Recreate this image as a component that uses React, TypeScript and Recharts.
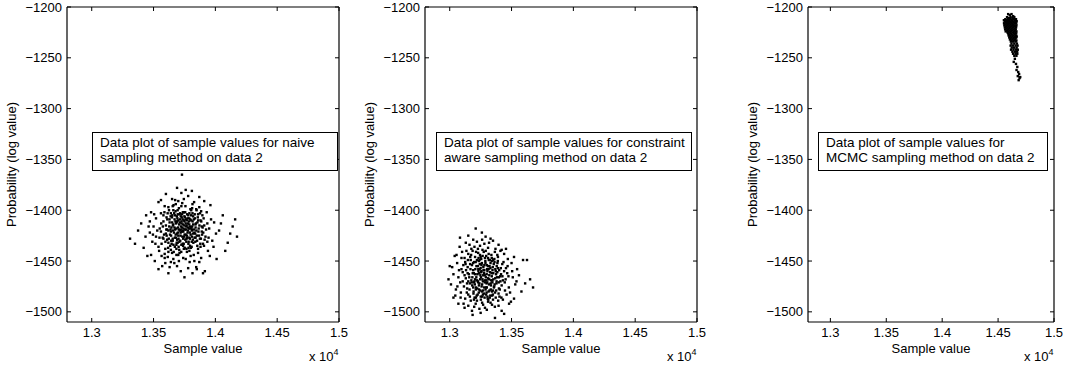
import { ScatterChart, Scatter, XAxis, YAxis, Label } from 'recharts';

// axis setup shared by the three panels
const xTicks = [13000, 13500, 14000, 14500, 15000];
const yTicks = [-1500, -1450, -1400, -1350, -1300, -1250, -1200];
const xDomain = [12800, 15000];
const yDomain = [-1510, -1200];

// naive sampling, data 2
const naivePoints = [
  [13730, -1365], [13690, -1378], [13760, -1380],
  [13600, -1384], [13810, -1381], [13870, -1387], [13650, -1389], [13725, -1383], [13780, -1386], [13560, -1390],
  [13540, -1392], [13620, -1397], [13662, -1395], [13700, -1391], [13732, -1393], [13758, -1396], [13798, -1399], [13828, -1392],
  [13870, -1397], [13960, -1395], [13590, -1396], [13705, -1398], [13680, -1394], [13845, -1399], [13910, -1391],
  [13440, -1405], [13480, -1402], [13520, -1408], [13560, -1403], [13605, -1407], [13625, -1400], [13652, -1405], [13670, -1409],
  [13678, -1401], [13688, -1406], [13715, -1403], [13728, -1407], [13745, -1402], [13762, -1409], [13772, -1404], [13788, -1408],
  [13805, -1400], [13815, -1403], [13835, -1408], [13848, -1400], [13895, -1405], [13930, -1402], [14060, -1405], [13640, -1403],
  [13695, -1400], [13750, -1406], [13820, -1406], [13580, -1405], [13735, -1409], [13860, -1404],
  [13400, -1413], [13500, -1416], [13550, -1418], [13580, -1411], [13600, -1415], [13630, -1412], [13645, -1417], [13660, -1414],
  [13675, -1419], [13682, -1413], [13698, -1417], [13700, -1410], [13712, -1412], [13722, -1416], [13738, -1414], [13742, -1418],
  [13750, -1411], [13755, -1419], [13768, -1415], [13778, -1413], [13785, -1418], [13795, -1416], [13805, -1410], [13820, -1414],
  [13840, -1417], [13855, -1412], [13865, -1418], [13880, -1410], [13910, -1415], [13950, -1418], [13990, -1412], [14140, -1416],
  [13610, -1419], [13690, -1411], [13730, -1417], [13760, -1413], [13810, -1419], [13890, -1416], [13470, -1411], [13935, -1413],
  [13310, -1428], [13470, -1422], [13520, -1426], [13585, -1424], [13610, -1429], [13620, -1420], [13642, -1425], [13665, -1422],
  [13680, -1427], [13690, -1423], [13702, -1428], [13718, -1425], [13730, -1421], [13748, -1426], [13760, -1424], [13775, -1422],
  [13790, -1427], [13800, -1424], [13818, -1429], [13830, -1422], [13850, -1425], [13875, -1428], [13890, -1421], [13920, -1426],
  [14030, -1420], [14175, -1426], [13560, -1421], [13655, -1428], [13712, -1420], [13740, -1428], [13810, -1420], [13840, -1427],
  [13700, -1425], [13600, -1423],
  [13420, -1437], [13490, -1431], [13565, -1433], [13595, -1438], [13635, -1435], [13655, -1430], [13672, -1436], [13695, -1432],
  [13708, -1439], [13725, -1434], [13735, -1433], [13752, -1437], [13765, -1431], [13782, -1433], [13808, -1436], [13838, -1431],
  [13860, -1438], [13900, -1433], [13975, -1430], [14100, -1432], [13640, -1439], [13685, -1434], [13745, -1438], [13795, -1435],
  [13540, -1436], [13620, -1432], [13880, -1436],
  [13450, -1445], [13480, -1444], [13545, -1440], [13615, -1446], [13650, -1442], [13685, -1444], [13740, -1447], [13770, -1441],
  [13825, -1444], [13885, -1447], [13940, -1440], [14010, -1448], [13590, -1443], [13710, -1442], [13800, -1445], [13860, -1442],
  [13660, -1448],
  [13510, -1450], [13570, -1455], [13668, -1452], [13720, -1460], [13792, -1451], [13845, -1456], [13915, -1460], [13540, -1458],
  [13620, -1462], [13750, -1466], [13850, -1458], [13900, -1462], [13690, -1455], [13780, -1457], [13640, -1451],
  [13562, -1413], [13574, -1427], [13588, -1402], [13596, -1431], [13603, -1419], [13611, -1409], [13618, -1437], [13627, -1416],
  [13633, -1424], [13638, -1406], [13646, -1433], [13651, -1412], [13657, -1420], [13663, -1441], [13667, -1403], [13673, -1427],
  [13677, -1411], [13684, -1418], [13687, -1432], [13693, -1408], [13697, -1422], [13703, -1436], [13707, -1414], [13711, -1404],
  [13716, -1430], [13720, -1419], [13724, -1441], [13727, -1411], [13733, -1426], [13737, -1402], [13741, -1421], [13744, -1433],
  [13749, -1415], [13753, -1407], [13757, -1429], [13761, -1419], [13766, -1438], [13769, -1410], [13773, -1427], [13777, -1417],
  [13781, -1405], [13784, -1431], [13789, -1414], [13793, -1422], [13797, -1409], [13802, -1437], [13806, -1417], [13811, -1426],
  [13816, -1411], [13822, -1432], [13827, -1419], [13833, -1404], [13837, -1423], [13843, -1413], [13852, -1430], [13858, -1407],
  [13863, -1421], [13871, -1415], [13878, -1433], [13886, -1411], [13893, -1424], [13905, -1408], [13913, -1429], [13925, -1419],
  [13945, -1427], [13965, -1409], [13985, -1436], [14005, -1423], [14045, -1413], [14080, -1440], [13530, -1420], [13515, -1433],
  [13505, -1404], [13495, -1424], [13460, -1416], [13435, -1426], [13375, -1420], [13350, -1433], [14120, -1423], [14160, -1409],
  [13655, -1396], [13675, -1390], [13745, -1389], [13815, -1394], [13885, -1401], [13590, -1447], [13705, -1450], [13760, -1448],
  [13830, -1450], [13955, -1445], [13630, -1456], [13815, -1462], [13595, -1452], [13870, -1451], [13565, -1445], [13685, -1438],
  [13720, -1406], [13770, -1425], [13640, -1421], [13790, -1403],
  [13606, -1425], [13614, -1403], [13623, -1428], [13629, -1409], [13637, -1419], [13643, -1430], [13649, -1407], [13656, -1415],
  [13661, -1434], [13669, -1417], [13674, -1405], [13679, -1424], [13686, -1412], [13691, -1429], [13696, -1404], [13704, -1419],
  [13709, -1431], [13714, -1409], [13719, -1422], [13726, -1413], [13731, -1404], [13736, -1420], [13739, -1435], [13746, -1410],
  [13751, -1424], [13756, -1402], [13763, -1416], [13767, -1428], [13774, -1408], [13779, -1420], [13783, -1437], [13787, -1411],
  [13794, -1428], [13799, -1418], [13804, -1405], [13809, -1431], [13813, -1416], [13819, -1423], [13826, -1409], [13832, -1427],
  [13839, -1414], [13846, -1420], [13854, -1435], [13861, -1410], [13868, -1425], [13876, -1403], [13883, -1428], [13897, -1417],
  [13620, -1441], [13700, -1444], [13790, -1440], [13725, -1396], [13660, -1400], [13812, -1398], [13580, -1428], [13575, -1416],
  [13908, -1435], [13902, -1422], [13935, -1431], [13548, -1427],
];

// constraint aware sampling, data 2
const constraintPoints = [
  [13210, -1418], [13083, -1427], [13150, -1425], [13260, -1422], [13330, -1428], [13190, -1429], [13290, -1426],
  [13080, -1436], [13130, -1432], [13175, -1438], [13220, -1431], [13245, -1435], [13280, -1433], [13310, -1437], [13350, -1430],
  [13395, -1434], [13420, -1439], [13160, -1434], [13265, -1439], [13200, -1436], [13370, -1438],
  [13040, -1445], [13100, -1441], [13120, -1447], [13150, -1443], [13185, -1440], [13205, -1446], [13230, -1442], [13255, -1448],
  [13275, -1441], [13295, -1445], [13315, -1443], [13340, -1447], [13365, -1441], [13390, -1446], [13440, -1443], [13470, -1448],
  [13593, -1449], [13625, -1449], [13170, -1449], [13245, -1444], [13325, -1449], [13410, -1440], [13285, -1447], [13220, -1449],
  [13000, -1455], [13060, -1452], [13095, -1458], [13125, -1451], [13145, -1456], [13165, -1453], [13190, -1459], [13210, -1451],
  [13228, -1455], [13242, -1458], [13260, -1452], [13272, -1456], [13288, -1450], [13300, -1454], [13315, -1458], [13330, -1452],
  [13348, -1456], [13362, -1451], [13380, -1455], [13400, -1459], [13425, -1453], [13455, -1457], [13500, -1452], [13545, -1458],
  [13180, -1454], [13235, -1450], [13280, -1459], [13322, -1455], [13340, -1450], [13390, -1457], [13110, -1454], [13250, -1457],
  [12990, -1468], [13030, -1463], [13070, -1466], [13105, -1461], [13130, -1467], [13155, -1463], [13175, -1469], [13195, -1462],
  [13215, -1466], [13232, -1460], [13248, -1464], [13265, -1468], [13278, -1462], [13292, -1466], [13305, -1460], [13320, -1464],
  [13335, -1469], [13352, -1462], [13368, -1467], [13385, -1461], [13408, -1465], [13430, -1469], [13465, -1462], [13510, -1466],
  [13650, -1468], [13560, -1464], [13205, -1468], [13255, -1461], [13298, -1469], [13340, -1465], [13120, -1464], [13375, -1463],
  [13440, -1460],
  [13010, -1473], [13050, -1478], [13085, -1471], [13115, -1475], [13140, -1472], [13160, -1478], [13182, -1474], [13200, -1470],
  [13222, -1477], [13240, -1472], [13258, -1475], [13270, -1479], [13285, -1471], [13300, -1476], [13318, -1473], [13332, -1478],
  [13345, -1471], [13360, -1475], [13378, -1472], [13398, -1477], [13420, -1474], [13445, -1471], [13478, -1476], [13530, -1473],
  [13674, -1476], [13610, -1472], [13190, -1476], [13230, -1471], [13290, -1478], [13350, -1479], [13410, -1470], [13150, -1470],
  [13045, -1484], [13090, -1481], [13125, -1487], [13150, -1483], [13170, -1489], [13192, -1482], [13212, -1486], [13235, -1481],
  [13252, -1488], [13268, -1483], [13282, -1486], [13298, -1481], [13312, -1488], [13328, -1484], [13342, -1480], [13372, -1486],
  [13395, -1482], [13430, -1488], [13460, -1483], [13520, -1487], [13260, -1480], [13305, -1485], [13220, -1489],
  [13070, -1492], [13120, -1496], [13150, -1494], [13180, -1499], [13210, -1492], [13240, -1497], [13270, -1493], [13300, -1498],
  [13330, -1491], [13365, -1495], [13420, -1499], [13480, -1492], [13185, -1503], [13366, -1506], [13440, -1502], [13250, -1501],
  [13310, -1490],
  [13132, -1459], [13141, -1477], [13147, -1449], [13158, -1466], [13163, -1485], [13168, -1458], [13173, -1444], [13178, -1471],
  [13186, -1462], [13193, -1480], [13197, -1451], [13203, -1473], [13207, -1458], [13213, -1441], [13218, -1484], [13224, -1463],
  [13227, -1470], [13233, -1447], [13237, -1478], [13243, -1453], [13246, -1468], [13251, -1485], [13256, -1460], [13262, -1473],
  [13266, -1445], [13271, -1464], [13276, -1482], [13280, -1454], [13286, -1469], [13291, -1440], [13295, -1476], [13302, -1458],
  [13307, -1487], [13311, -1467], [13316, -1449], [13322, -1479], [13327, -1461], [13331, -1472], [13337, -1444], [13343, -1484],
  [13346, -1459], [13353, -1468], [13357, -1476], [13361, -1448], [13367, -1481], [13372, -1460], [13379, -1470], [13386, -1452],
  [13392, -1489], [13398, -1466], [13405, -1478], [13413, -1457], [13418, -1486], [13426, -1465], [13435, -1451], [13447, -1479],
  [13452, -1468], [13468, -1455], [13488, -1481], [13505, -1460], [13105, -1470], [13095, -1447], [13088, -1486], [13075, -1459],
  [13062, -1475], [13055, -1444], [13030, -1486], [13020, -1456], [13135, -1440], [13112, -1492], [13198, -1495], [13262, -1491],
  [13285, -1496], [13342, -1493], [13395, -1494], [13228, -1438], [13318, -1432], [13262, -1429], [13385, -1444], [13455, -1438],
  [13540, -1470], [13580, -1480], [13520, -1446], [13495, -1490], [13475, -1465], [13238, -1462], [13298, -1472], [13212, -1476],
  [13352, -1449], [13163, -1472],
  [13183, -1466], [13189, -1452], [13196, -1471], [13201, -1486], [13206, -1463], [13211, -1478], [13216, -1455], [13221, -1469],
  [13226, -1483], [13231, -1458], [13236, -1474], [13241, -1449], [13247, -1479], [13253, -1466], [13257, -1454], [13263, -1485],
  [13268, -1470], [13273, -1459], [13279, -1476], [13283, -1464], [13289, -1452], [13294, -1483], [13299, -1463], [13304, -1471],
  [13309, -1455], [13314, -1480], [13319, -1468], [13324, -1486], [13329, -1457], [13334, -1474], [13339, -1462], [13344, -1469],
  [13349, -1483], [13356, -1453], [13363, -1473], [13369, -1458], [13376, -1479], [13382, -1466], [13389, -1450], [13396, -1471],
  [13145, -1462], [13138, -1481], [13128, -1453], [13166, -1446], [13402, -1485], [13415, -1463], [13250, -1446], [13310, -1447],
  [13196, -1488], [13350, -1488],
];

// MCMC sampling, data 2
const mcmcPoints = [
  [14590, -1207], [14605, -1208], [14620, -1207], [14635, -1209], [14580, -1210], [14598, -1211], [14612, -1210], [14628, -1211],
  [14645, -1210], [14652, -1212],
  [14565, -1212], [14588, -1212], [14610, -1212], [14637, -1212], [14660, -1212],
  [14552, -1213], [14575, -1213], [14598, -1213], [14622, -1213], [14648, -1213],
  [14560, -1214], [14582, -1214], [14604, -1214], [14630, -1214], [14655, -1214], [14666, -1214],
  [14570, -1215], [14592, -1215], [14615, -1215], [14640, -1215],
  [14553, -1216], [14578, -1216], [14600, -1216], [14624, -1216], [14650, -1216], [14662, -1216],
  [14565, -1217], [14588, -1217], [14612, -1217], [14635, -1217],
  [14556, -1218], [14580, -1218], [14603, -1218], [14627, -1218], [14646, -1218], [14664, -1218],
  [14570, -1219], [14594, -1219], [14618, -1219], [14640, -1219], [14656, -1219],
  [14560, -1220], [14584, -1220], [14608, -1220], [14632, -1220], [14661, -1220],
  [14575, -1221], [14598, -1221], [14622, -1221], [14648, -1221],
  [14563, -1222], [14587, -1222], [14612, -1222], [14637, -1222], [14658, -1222],
  [14578, -1223], [14603, -1223], [14626, -1223], [14650, -1223],
  [14568, -1224], [14592, -1224], [14616, -1224], [14642, -1224], [14664, -1224],
  [14584, -1225], [14608, -1225], [14632, -1225], [14655, -1225],
  [14590, -1226], [14614, -1226], [14640, -1226], [14662, -1226],
  [14598, -1227], [14622, -1227], [14648, -1227],
  [14594, -1228], [14612, -1228], [14636, -1228], [14660, -1228],
  [14604, -1229], [14628, -1229], [14652, -1229], [14666, -1229],
  [14600, -1230], [14620, -1230], [14644, -1230], [14662, -1230],
  [14612, -1231], [14636, -1231], [14656, -1231],
  [14606, -1232], [14628, -1232], [14650, -1232],
  [14618, -1233], [14642, -1233], [14664, -1233],
  [14614, -1234], [14635, -1234], [14658, -1234],
  [14620, -1236], [14645, -1236], [14668, -1236],
  [14612, -1238], [14632, -1238], [14656, -1238], [14674, -1238],
  [14622, -1240], [14644, -1240], [14666, -1240],
  [14616, -1242], [14638, -1242], [14660, -1242], [14676, -1242],
  [14628, -1244], [14650, -1244], [14670, -1244],
  [14634, -1246], [14656, -1246], [14672, -1246],
  [14645, -1248], [14664, -1248],
  [14650, -1251], [14640, -1254], [14660, -1256], [14672, -1259], [14665, -1262], [14680, -1264], [14688, -1266],
  [14676, -1268], [14692, -1270], [14684, -1272], [14698, -1269],
];

const boxTexts = [
  ['Data plot of sample values for naive', 'sampling method on data 2'],
  ['Data plot of sample values for constraint', 'aware sampling method on data 2'],
  ['Data plot of sample values for', 'MCMC sampling method on data 2'],
];

const W = 1069;
const H = 365;
const TOP = 7;
const BOTTOM = 322;
const LEFT_W = 60;
const RIGHT_W = 10;
const TOP_H = 5;
const BOTTOM_H = 40;
const FONT = 'Arial, "Liberation Sans", Helvetica, sans-serif';

const fmtX = (v: number) => String(v / 10000);
const fmtY = (v: number) => (v < 0 ? '\u2212' + Math.abs(v) : String(v));

function BottomTick({ x, y, payload }: any) {
  return (
    <g>
      <line x1={x} x2={x} y1={y} y2={y - 4} stroke="#000" />
      <text x={x} y={y + 15} textAnchor="middle" fontSize={13} fontFamily={FONT} fill="#000">
        {fmtX(payload.value)}
      </text>
    </g>
  );
}

function TopTick({ x, y }: any) {
  return <line x1={x} x2={x} y1={y} y2={y + 4} stroke="#000" />;
}

function LeftTick({ x, y, payload }: any) {
  return (
    <g>
      <line x1={x} x2={x + 4} y1={y} y2={y} stroke="#000" />
      <text x={x - 5} y={y + 4.5} textAnchor="end" fontSize={13} fontFamily={FONT} fill="#000">
        {fmtY(payload.value)}
      </text>
    </g>
  );
}

function RightTick({ x, y }: any) {
  return <line x1={x} x2={x - 4} y1={y} y2={y} stroke="#000" />;
}

function Dot({ cx, cy }: any) {
  return <rect x={cx - 1.2} y={cy - 1.2} width={2.4} height={2.4} fill="#000" />;
}

function XLabel({ viewBox }: any) {
  const { x, y, width } = viewBox;
  return (
    <g fontFamily={FONT} fill="#000">
      <text x={x + width / 2} y={y + 30.5} textAnchor="middle" fontSize={13}>
        Sample value
      </text>
      <text x={x + width - 30} y={y + 39} fontSize={13}>
        x 10
        <tspan dy={-6} fontSize={9}>4</tspan>
      </text>
    </g>
  );
}

function YLabel({ viewBox }: any) {
  const { x, y, width, height } = viewBox;
  const lx = x + width - 51.5;
  const ly = y + height / 2;
  return (
    <text
      x={lx}
      y={ly}
      transform={`rotate(-90 ${lx} ${ly})`}
      textAnchor="middle"
      fontSize={13}
      fontFamily={FONT}
      fill="#000"
    >
      Probability (log value)
    </text>
  );
}

function Panel({ points, left, right }: { points: number[][]; left: number; right: number }) {
  const data = points.map(([x, y]) => ({ x, y }));
  const axisLine = { stroke: '#000', strokeWidth: 1.2 };
  return (
    <div style={{ position: 'absolute', left: 0, top: 0 }}>
      <ScatterChart
        width={W}
        height={H}
        margin={{
          top: TOP - TOP_H,
          bottom: H - BOTTOM - BOTTOM_H,
          left: left - LEFT_W,
          right: W - right - RIGHT_W,
        }}
      >
        <XAxis
          xAxisId="b"
          type="number"
          dataKey="x"
          domain={xDomain}
          ticks={xTicks}
          interval={0}
          allowDataOverflow
          height={BOTTOM_H}
          tickSize={0}
          tickMargin={0}
          tickLine={false}
          axisLine={axisLine}
          tick={<BottomTick />}
        >
          <Label content={<XLabel />} />
        </XAxis>
        <XAxis
          xAxisId="t"
          orientation="top"
          type="number"
          dataKey="x"
          domain={xDomain}
          ticks={xTicks}
          interval={0}
          allowDataOverflow
          height={TOP_H}
          tickSize={0}
          tickMargin={0}
          tickLine={false}
          axisLine={axisLine}
          tick={<TopTick />}
        />
        <YAxis
          yAxisId="l"
          type="number"
          dataKey="y"
          domain={yDomain}
          ticks={yTicks}
          interval={0}
          allowDataOverflow
          width={LEFT_W}
          tickSize={0}
          tickMargin={0}
          tickLine={false}
          axisLine={axisLine}
          tick={<LeftTick />}
        >
          <Label content={<YLabel />} />
        </YAxis>
        <YAxis
          yAxisId="r"
          orientation="right"
          type="number"
          dataKey="y"
          domain={yDomain}
          ticks={yTicks}
          interval={0}
          allowDataOverflow
          width={RIGHT_W}
          tickSize={0}
          tickMargin={0}
          tickLine={false}
          axisLine={axisLine}
          tick={<RightTick />}
        />
        <Scatter
          data={data}
          xAxisId="b"
          yAxisId="l"
          shape={<Dot />}
          isAnimationActive={false}
        />
        <Scatter data={[]} xAxisId="t" yAxisId="r" isAnimationActive={false} />
      </ScatterChart>
    </div>
  );
}

function NoteBox({ left, width, lines }: { left: number; width: number; lines: string[] }) {
  return (
    <div
      style={{
        position: 'absolute',
        left,
        top: 132,
        width,
        height: 39,
        boxSizing: 'border-box',
        border: '1px solid #000',
        background: '#fff',
        padding: '2px 0 0 7px',
        fontFamily: FONT,
        fontSize: 13.5,
        lineHeight: '15px',
        color: '#000',
        whiteSpace: 'nowrap',
      }}
    >
      {lines.map((l) => (
        <div key={l}>{l}</div>
      ))}
    </div>
  );
}

export default function App() {
  return (
    <div style={{ position: 'absolute', left: 0, top: 0, width: W, height: H, background: '#fff' }}>
      <Panel points={naivePoints} left={67} right={339} />
      <Panel points={constraintPoints} left={425} right={697} />
      <Panel points={mcmcPoints} left={808} right={1054} />
      <NoteBox left={92} width={246} lines={boxTexts[0]} />
      <NoteBox left={436} width={256} lines={boxTexts[1]} />
      <NoteBox left={818} width={230} lines={boxTexts[2]} />
    </div>
  );
}
